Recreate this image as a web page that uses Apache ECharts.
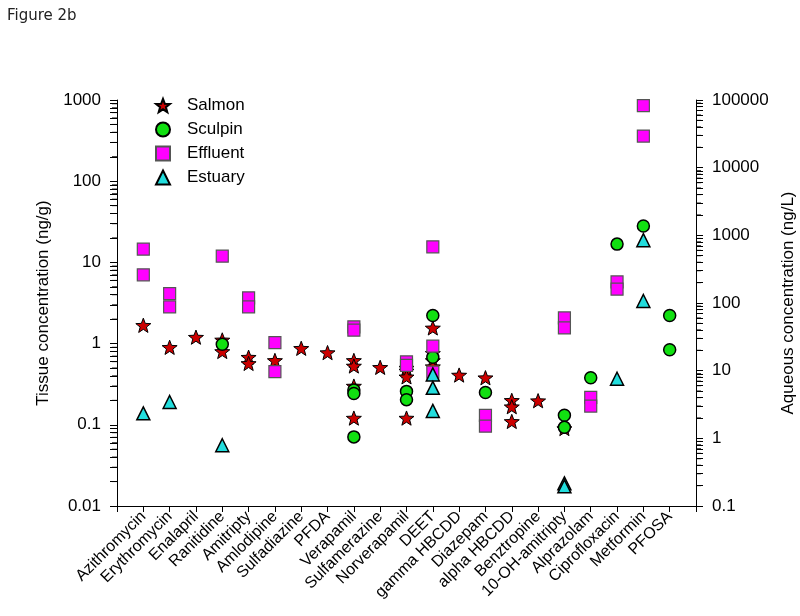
<!DOCTYPE html>
<html>
<head>
<meta charset="utf-8">
<title>Figure 2b</title>
<script src="https://cdn.jsdelivr.net/npm/echarts@6/dist/echarts.min.js"></script>
<style>
  html, body { margin: 0; padding: 0; background: #fff; }
  #chart { width: 800px; height: 616px; }
</style>
</head>
<body>
<div id="chart"></div>
<script>
// x categories
var categories = ['Azithromycin', 'Erythromycin', 'Enalapril', 'Ranitidine', 'Amitripty', 'Amlodipine',
  'Sulfadiazine', 'PFDA', 'Verapamil', 'Sulfamerazine', 'Norverapamil', 'DEET', 'gamma HBCDD',
  'Diazepam', 'alpha HBCDD', 'Benztropine', '10-OH-amitripty', 'Alprazolam', 'Ciprofloxacin',
  'Metformin', 'PFOSA']

// tissue concentration (ng/g), left axis
var salmon = [
  ['Azithromycin', 1.68], ['Erythromycin', 0.9], ['Enalapril', 1.2], ['Ranitidine', 1.11], ['Ranitidine', 0.8],
  ['Amitripty', 0.68], ['Amitripty', 0.57], ['Amlodipine', 0.62], ['Sulfadiazine', 0.875], ['PFDA', 0.775],
  ['Verapamil', 0.62], ['Verapamil', 0.53], ['Verapamil', 0.3], ['Verapamil', 0.121], ['Sulfamerazine', 0.51],
  ['Norverapamil', 0.5], ['Norverapamil', 0.46], ['Norverapamil', 0.39], ['Norverapamil', 0.121],
  ['DEET', 1.56], ['DEET', 0.76], ['DEET', 0.62], ['DEET', 0.52], ['gamma HBCDD', 0.41], ['Diazepam', 0.38],
  ['alpha HBCDD', 0.2], ['alpha HBCDD', 0.167], ['alpha HBCDD', 0.11], ['Benztropine', 0.198],
  ['10-OH-amitripty', 0.09]
]
var sculpin = [
  ['Ranitidine', 0.98], ['Verapamil', 0.268], ['Verapamil', 0.243], ['Verapamil', 0.071],
  ['Norverapamil', 0.258], ['Norverapamil', 0.204], ['DEET', 2.22], ['DEET', 0.68], ['Diazepam', 0.25],
  ['10-OH-amitripty', 0.131], ['10-OH-amitripty', 0.093], ['Alprazolam', 0.38], ['Ciprofloxacin', 16.8],
  ['Metformin', 28.1], ['PFOSA', 2.22], ['PFOSA', 0.84]
]
// aqueous concentration (ng/L), right axis
var effluent = [
  ['Azithromycin', 625], ['Azithromycin', 261], ['Erythromycin', 138], ['Erythromycin', 87.6],
  ['Ranitidine', 492], ['Amitripty', 119], ['Amitripty', 87.6], ['Amlodipine', 26], ['Amlodipine', 9.7],
  ['Verapamil', 44.5], ['Verapamil', 39.6], ['Norverapamil', 13.5], ['Norverapamil', 12],
  ['DEET', 676], ['DEET', 23], ['DEET', 9.5], ['Diazepam', 2.19], ['Diazepam', 1.51],
  ['10-OH-amitripty', 60.2], ['10-OH-amitripty', 42.9], ['Alprazolam', 4.02], ['Alprazolam', 3.0],
  ['Ciprofloxacin', 205], ['Ciprofloxacin', 160], ['Metformin', 82500], ['Metformin', 29300]
]
var estuary = [
  ['Azithromycin', 2.34], ['Erythromycin', 3.44], ['Ranitidine', 0.79], ['DEET', 8.8], ['DEET', 5.57],
  ['DEET', 2.54], ['10-OH-amitripty', 0.216], ['10-OH-amitripty', 0.195], ['Ciprofloxacin', 7.6],
  ['Metformin', 849], ['Metformin', 107]
]

// decade limits (log10) of the two axes
var leftDecades = [-2, 3]
var rightDecades = [-1, 5]

var FONT = 'Liberation Sans'
var STAR = 'path://M0,-1 L0.247,-0.34 L0.951,-0.309 L0.399,0.13 L0.588,0.809 L0,0.42 L-0.588,0.809 L-0.399,0.13 L-0.951,-0.309 L-0.247,-0.34 Z'
var X_MAX = categories.length + 1

// values are plotted in log10 space on plain value axes
function toPoints (rows) {
  return rows.map(function (r) {
    return [categories.indexOf(r[0]) + 1, Math.log10(r[1])]
  })
}
function decadeLabel (v) {
  return String(+Math.pow(10, v).toPrecision(6))
}
// every log tick position (1..9 in each decade, plus the top)
function allTicks (range) {
  var out = []
  for (var d = range[0]; d < range[1]; d++) {
    for (var k = 1; k <= 9; k++) out.push(d + Math.log10(k))
  }
  out.push(range[1])
  return out
}
// 2..9 positions inside every decade, placed on the axis line at x = xAt
function minorValues (range, xAt) {
  var out = []
  for (var d = range[0]; d < range[1]; d++) {
    for (var k = 2; k <= 9; k++) out.push([xAt, d + Math.log10(k)])
  }
  return out
}

function mainY (range, pos, title, gap) {
  return {
    type: 'value',
    position: pos,
    min: range[0],
    max: range[1],
    interval: 1,
    name: title,
    nameLocation: 'middle',
    nameGap: gap,
    nameTextStyle: { fontFamily: FONT, fontSize: 17, color: '#000' },
    axisLine: { show: true, onZero: false, lineStyle: { color: '#000', width: 1 } },
    axisTick: { show: true, length: 7, customValues: allTicks(range), lineStyle: { color: '#000' } },
    axisLabel: { fontFamily: FONT, fontSize: 17, color: '#000', margin: 16, formatter: decadeLabel },
    splitLine: { show: false }
  }
}

// minor log ticks as short dashes just outside the axis line (backup for the tick list)
function minorTickSeries (name, range, axisIndex, xAt, dir) {
  return {
    name: name,
    type: 'scatter',
    yAxisIndex: axisIndex,
    silent: true,
    clip: false,
    z: 10,
    symbol: 'rect',
    symbolSize: [5, 1],
    symbolOffset: [dir * 2.5, 0],
    itemStyle: { color: '#000', opacity: 1 },
    data: minorValues(range, xAt)
  }
}

var chart = echarts.init(document.getElementById('chart'))
chart.setOption({
  backgroundColor: '#fff',
  animation: false,
  title: {
    text: 'Figure 2b',
    left: 2,
    top: 4,
    textStyle: { fontFamily: 'DejaVu Sans', fontSize: 15, fontWeight: 'normal', color: '#222' }
  },
  legend: {
    orient: 'vertical',
    left: 150,
    top: 92,
    itemWidth: 14,
    itemHeight: 14,
    itemGap: 7,
    textStyle: { fontFamily: FONT, fontSize: 17, color: '#000', padding: [0, 0, 0, 12] },
    data: ['Salmon', 'Sculpin', 'Effluent', 'Estuary']
  },
  grid: { left: 117, right: 104, top: 100, bottom: 110, outerBoundsMode: 'none', containLabel: false },
  xAxis: {
    type: 'value',
    min: 0,
    max: X_MAX,
    interval: 1,
    axisLine: { show: true, onZero: false, lineStyle: { color: '#000' } },
    axisTick: { show: true, length: 6, lineStyle: { color: '#000' } },
    axisLabel: {
      rotate: 45,
      fontFamily: FONT,
      fontSize: 16,
      color: '#000',
      margin: 8,
      formatter: function (v) { return categories[v - 1] || '' }
    },
    splitLine: { show: false }
  },
  yAxis: [
    mainY(leftDecades, 'left', 'Tissue concentration (ng/g)', 62),
    mainY(rightDecades, 'right', 'Aqueous concentration (ng/L)', 84)
  ],
  series: [
    {
      name: 'Salmon',
      type: 'scatter',
      yAxisIndex: 0,
      symbol: STAR,
      symbolKeepAspect: true,
      symbolSize: 15,
      itemStyle: { color: '#cc0000', borderColor: '#000', borderWidth: 1, opacity: 1 },
      data: toPoints(salmon)
    }, {
      name: 'Sculpin',
      type: 'scatter',
      yAxisIndex: 0,
      symbol: 'circle',
      symbolSize: 12,
      itemStyle: { color: '#11e011', borderColor: '#000', borderWidth: 1.5, opacity: 1 },
      data: toPoints(sculpin)
    }, {
      name: 'Effluent',
      type: 'scatter',
      yAxisIndex: 1,
      symbol: 'rect',
      symbolSize: 12,
      itemStyle: { color: '#ff00ff', borderColor: '#555', borderWidth: 1.2, opacity: 1 },
      data: toPoints(effluent)
    }, {
      name: 'Estuary',
      type: 'scatter',
      yAxisIndex: 1,
      symbol: 'triangle',
      symbolSize: 13,
      itemStyle: { color: '#22dddd', borderColor: '#000', borderWidth: 1.5, opacity: 1 },
      data: toPoints(estuary)
    },
    minorTickSeries('minorLeft', leftDecades, 0, 0, -1),
    minorTickSeries('minorRight', rightDecades, 1, X_MAX, 1)
  ]
})
</script>
</body>
</html>
